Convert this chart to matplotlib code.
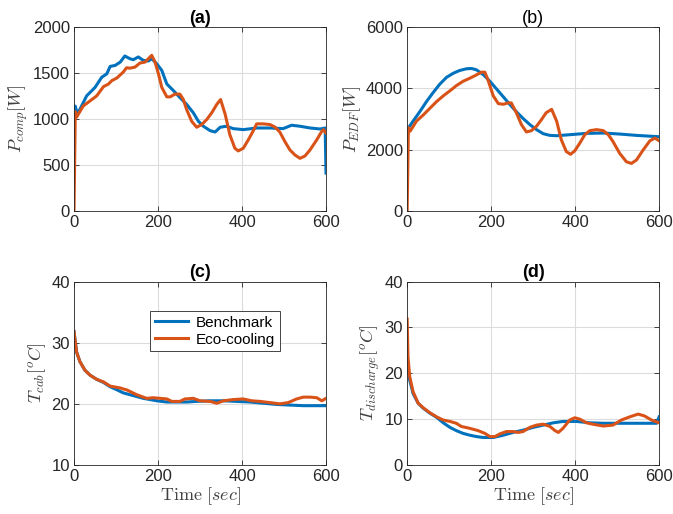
import matplotlib
matplotlib.use('Agg')
import matplotlib.pyplot as plt

plt.rcParams['font.family'] = ['Liberation Sans', 'DejaVu Sans']
plt.rcParams['mathtext.fontset'] = 'cm'

BLUE = '#0072BD'
ORANGE = '#D95319'
DARK = '#262626'

# (a) compressor power [W]
ta_bench = [0, 3, 8, 30, 50, 66, 78, 86, 98, 110, 121, 133, 141, 153, 165, 177, 185,
            197, 209, 221, 237, 252, 268, 284, 296, 308, 324, 336, 348, 363, 379, 403,
            435, 467, 498, 518, 538, 562, 586, 598, 600]
pa_bench = [1100, 1140, 1050, 1252, 1344, 1455, 1492, 1573, 1584, 1620, 1687, 1657, 1646,
            1676, 1639, 1632, 1657, 1602, 1529, 1381, 1308, 1234, 1160, 1068, 976, 921,
            873, 858, 910, 921, 895, 884, 902, 902, 895, 932, 921, 902, 891, 902, 410]
ta_eco = [0, 3, 6, 22, 38, 54, 70, 82, 90, 102, 117, 125, 133, 145, 157, 169, 177, 185,
          193, 201, 209, 221, 229, 240, 252, 260, 268, 280, 292, 304, 316, 328, 340, 349,
          360, 371, 383, 391, 403, 415, 427, 435, 451, 467, 479, 490, 502, 514, 526, 538,
          550, 562, 578, 590, 594, 600]
pa_eco = [0, 1080, 1020, 1142, 1197, 1252, 1352, 1381, 1418, 1447, 1510, 1558, 1554, 1565,
          1610, 1620, 1657, 1694, 1620, 1492, 1344, 1241, 1241, 1271, 1271, 1215, 1105, 976,
          910, 939, 994, 1068, 1160, 1212, 1050, 829, 681, 652, 681, 773, 873, 947, 947,
          939, 910, 858, 755, 663, 608, 571, 597, 663, 773, 866, 884, 847]

# (b) EDF power [W]
tb_bench = [0, 14, 30, 46, 62, 78, 94, 110, 125, 141, 153, 165, 181, 197, 213, 229, 244,
            260, 276, 292, 308, 324, 340, 356, 387, 427, 467, 506, 546, 600]
pb_bench = [2650, 2928, 3238, 3569, 3867, 4144, 4365, 4497, 4586, 4641, 4652, 4608, 4453,
            4232, 3978, 3724, 3481, 3238, 3017, 2818, 2652, 2519, 2464, 2453, 2486, 2530,
            2541, 2508, 2464, 2420]
tb_eco = [0, 3, 7, 22, 38, 54, 70, 86, 102, 117, 133, 149, 165, 177, 185, 193, 205, 217,
          229, 240, 248, 260, 272, 284, 296, 308, 320, 331, 344, 356, 367, 379, 389, 399,
          411, 423, 435, 451, 467, 479, 490, 506, 522, 534, 546, 562, 578, 590, 600]
pb_eco = [0, 2720, 2600, 2928, 3127, 3348, 3569, 3757, 3923, 4089, 4232, 4332, 4442, 4531,
          4531, 4254, 3757, 3503, 3481, 3525, 3525, 3205, 2818, 2575, 2619, 2763, 2984,
          3205, 3315, 2928, 2321, 1934, 1845, 1956, 2210, 2486, 2619, 2652, 2619, 2486,
          2265, 1879, 1602, 1547, 1658, 1989, 2287, 2376, 2287]

# (c) cabin temperature [C]
tc_bench = [0, 6, 14, 26, 38, 54, 70, 86, 102, 117, 133, 149, 165, 181, 197, 221, 244, 268,
            292, 324, 356, 387, 419, 451, 483, 514, 546, 578, 600]
tc_bench_v = [31.8, 28.5, 26.9, 25.5, 24.7, 24.0, 23.5, 22.8, 22.3, 21.8, 21.5, 21.2, 20.9,
              20.7, 20.5, 20.3, 20.3, 20.3, 20.4, 20.5, 20.5, 20.4, 20.3, 20.1, 19.9, 19.8,
              19.7, 19.7, 19.7]
tc_eco = [0, 6, 14, 26, 38, 54, 70, 86, 110, 119, 125, 149, 173, 189, 205, 221, 233, 252,
          264, 284, 300, 324, 340, 356, 379, 403, 423, 443, 467, 490, 510, 530, 546, 562,
          578, 590, 600]
tc_eco_v = [31.8, 28.5, 26.9, 25.5, 24.7, 24.0, 23.6, 22.9, 22.6, 22.4, 22.3, 21.5, 20.9,
            21.0, 20.9, 20.8, 20.4, 20.4, 20.8, 20.9, 20.5, 20.4, 20.1, 20.5, 20.7, 20.8,
            20.5, 20.4, 20.2, 20.0, 20.2, 20.8, 21.1, 21.1, 21.0, 20.5, 20.9]

# (d) discharge temperature [C]
td_bench = [0, 6, 14, 26, 38, 54, 70, 86, 102, 117, 133, 149, 165, 181, 205, 229, 252, 276,
            300, 324, 348, 371, 403, 435, 467, 506, 546, 594, 600]
td_bench_v = [22.9, 18.5, 15.6, 13.5, 12.4, 11.3, 10.4, 9.2, 8.2, 7.5, 6.9, 6.5, 6.2, 6.0,
              6.0, 6.5, 7.1, 7.6, 8.2, 8.7, 9.2, 9.5, 9.5, 9.2, 9.1, 9.1, 9.1, 9.1, 10.5]
td_eco = [0, 2, 6, 14, 26, 38, 54, 70, 86, 102, 117, 129, 149, 169, 185, 197, 209, 221,
          237, 252, 264, 276, 292, 308, 324, 340, 352, 360, 371, 387, 399, 411, 427, 442,
          467, 490, 510, 530, 550, 565, 582, 600]
td_eco_v = [31.8, 23.6, 19.3, 16.0, 13.5, 12.5, 11.4, 10.5, 9.8, 9.5, 9.1, 8.4, 8.0, 7.5,
            6.9, 6.2, 6.2, 6.8, 7.3, 7.3, 7.1, 7.3, 8.2, 8.7, 8.9, 8.4, 7.5, 7.1, 8.0, 9.8,
            10.3, 10.0, 9.2, 8.9, 8.5, 8.7, 9.8, 10.5, 11.1, 10.7, 9.8, 9.2]

fig = plt.figure(figsize=(6.73, 5.14), dpi=100)
w, h = 0.3744, 0.357
ax_a = fig.add_axes([0.110, 0.590, w, h])
ax_b = fig.add_axes([0.605, 0.590, w, h])
ax_c = fig.add_axes([0.110, 0.0953, w, h])
ax_d = fig.add_axes([0.605, 0.0953, w, h])


def style(ax, ylim, yticks, title, bold=True):
    ax.set_xlim(0, 600)
    ax.set_xticks([0, 200, 400, 600])
    ax.set_ylim(*ylim)
    ax.set_yticks(yticks)
    ax.grid(True, color='#dcdcdc', linewidth=0.8)
    ax.set_axisbelow(True)
    ax.tick_params(direction='in', length=3.5, width=0.6, top=True, right=True,
                   labelsize=12, colors=DARK, pad=3)
    for s in ax.spines.values():
        s.set_color(DARK)
        s.set_linewidth(0.6)
    ax.set_title(title, fontsize=13, fontweight='bold' if bold else 'normal',
                 color='black', pad=3)


ax_a.plot(ta_bench, pa_bench, color=BLUE, lw=2.2)
ax_a.plot(ta_eco, pa_eco, color=ORANGE, lw=2.2)
style(ax_a, (0, 2000), [0, 500, 1000, 1500, 2000], '(a)')
ax_a.set_ylabel(r'$P_{comp}[W]$', fontsize=13, color='#404040', labelpad=2)

ax_b.plot(tb_bench, pb_bench, color=BLUE, lw=2.2)
ax_b.plot(tb_eco, pb_eco, color=ORANGE, lw=2.2)
style(ax_b, (0, 6000), [0, 2000, 4000, 6000], '(b)', bold=False)
ax_b.set_ylabel(r'$P_{EDF}[W]$', fontsize=13, color='#404040', labelpad=2)

ax_c.plot(tc_bench, tc_bench_v, color=BLUE, lw=2.2, label='Benchmark')
ax_c.plot(tc_eco, tc_eco_v, color=ORANGE, lw=2.2, label='Eco-cooling')
style(ax_c, (10, 40), [10, 20, 30, 40], '(c)')
ax_c.set_ylabel(r'$T_{cab}[^oC]$', fontsize=13, color='#404040', labelpad=2)
ax_c.set_xlabel(r'$\mathrm{Time}\ [sec]$', fontsize=13, color='#404040', labelpad=1)
leg = ax_c.legend(loc='center', bbox_to_anchor=(0.56, 0.73), fontsize=11,
                  fancybox=False, framealpha=1, edgecolor=DARK, handlelength=2.2,
                  borderpad=0.3, labelspacing=0.2, handletextpad=0.5)
leg.get_frame().set_linewidth(0.6)

ax_d.plot(td_bench, td_bench_v, color=BLUE, lw=2.2)
ax_d.plot(td_eco, td_eco_v, color=ORANGE, lw=2.2)
style(ax_d, (0, 40), [0, 10, 20, 30, 40], '(d)')
ax_d.set_ylabel(r'$T_{discharge}[^oC]$', fontsize=13, color='#404040', labelpad=2)
ax_d.set_xlabel(r'$\mathrm{Time}\ [sec]$', fontsize=13, color='#404040', labelpad=1)

fig.savefig('out.png', dpi=100)
